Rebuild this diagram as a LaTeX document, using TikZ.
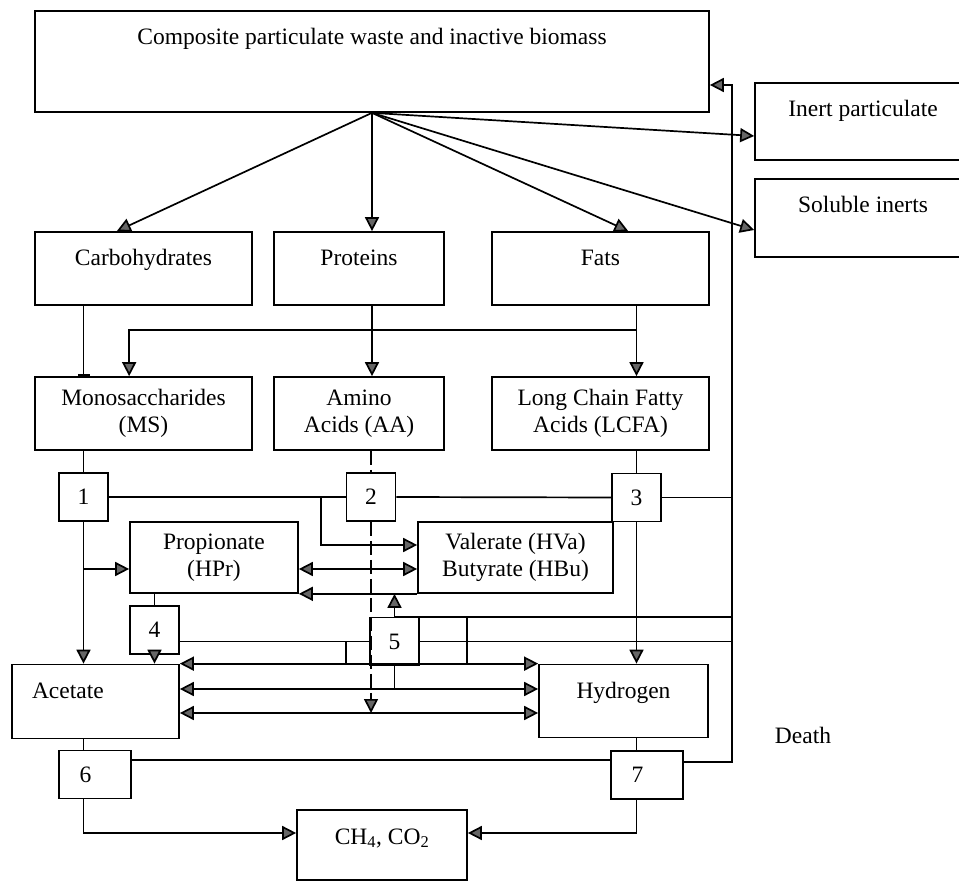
\documentclass[tikz,border=0pt]{standalone}
\usepackage{fontspec}
\setmainfont{Liberation Serif}
\usetikzlibrary{arrows.meta,calc}

\begin{document}
\begin{tikzpicture}[
  x=1pt, y=-1pt,
  font=\fontsize{23.5}{27}\selectfont,
  line width=1.7pt,
  box/.style={draw, line width=1.7pt, inner xsep=0pt, inner ysep=0pt, text height=34pt},
  mbox/.style={draw, line width=1.7pt, inner sep=0pt, align=center},
  proc/.style={draw, line width=1.7pt, inner sep=0pt, minimum width=49pt, minimum height=48pt},
  ar/.style={-{Triangle[length=14pt,width=14pt,fill=black!60]}},
  dar/.style={{Triangle[length=14pt,width=14pt,fill=black!60]}-{Triangle[length=14pt,width=14pt,fill=black!60]}},
  dsh/.style={dash pattern=on 14pt off 5pt},
]
\useasboundingbox (0,0) rectangle (959,882);

\node[box, minimum width=674pt, text depth=67pt] (comp) at (372,61.5) {Composite particulate waste and inactive biomass};
\node[box, minimum width=216pt, text depth=43pt] (inert) at (863,121.5) {Inert particulate};
\node[box, minimum width=216pt, text depth=44pt] (sol) at (863,218) {Soluble inerts};

\node[box, minimum width=217pt, text depth=39pt] (carb) at (143.5,268.5) {Carbohydrates};
\node[box, minimum width=170pt, text depth=39pt] (prot) at (359,268.5) {Proteins};
\node[box, minimum width=217pt, text depth=39pt] (fats) at (600.5,268.5) {Fats};

\node[mbox, minimum width=217pt, minimum height=73pt] (ms)   at (143.5,413.5) {Monosaccharides\\(MS)};
\node[mbox, minimum width=170pt, minimum height=73pt] (aa)   at (359,413.5)   {Amino\\Acids (AA)};
\node[mbox, minimum width=217pt, minimum height=73pt] (lcfa) at (600.5,413.5) {Long Chain Fatty\\Acids (LCFA)};

\node[proc] (p1) at (83.5,497)  {1};
\node[proc] (p2) at (371,497)   {2};
\node[proc] (p3) at (636.5,497.5) {3};

\node[mbox, minimum width=168pt, minimum height=71pt] (hpr) at (214,557.5)   {Propionate\\(HPr)};
\node[mbox, minimum width=195pt, minimum height=71pt] (hva) at (515.5,557.5) {Valerate (HVa)\\Butyrate (HBu)};

\node[proc] (p4) at (154.5,630)   {4};
\node[proc] (p5) at (394.5,641.5) {5};

\node[box, minimum width=167pt, text depth=40pt, text width=127pt, inner xsep=20pt, align=left] (acet) at (95.5,701.5) {Acetate};
\node[box, minimum width=169pt, text depth=39pt] (hyd) at (623.5,701) {Hydrogen};

\node[proc, minimum width=72pt, text width=31pt, inner xsep=20.5pt, align=left] (p6) at (95,774.5) {6};
\node[proc, minimum width=72pt, text width=31pt, inner xsep=20.5pt, align=left] (p7) at (647,775)   {7};

\node[box, minimum width=170pt, text depth=36pt] (ch4) at (382,845) {CH\textsubscript{4}, CO\textsubscript{2}};
\node (death) at (803,735) {Death};

\coordinate (hub) at (comp.south);
\coordinate (dx) at (732,85);

\draw[ar] (hub) -- ($(carb.north west)!0.378!(carb.north east)$);
\draw[ar] (hub) -- (hub |- prot.north);
\draw[ar] (hub) -- ($(fats.north west)!0.627!(fats.north east)$);
\draw[ar] (hub) -- ($(inert.west)+(0,14.5)$);
\draw[ar] (hub) -- ($(sol.west)+(0,12)$);

\draw[-{Bar[width=12pt]}] (p1.north |- carb.south) -- (p1.north |- ms.north);
\draw[ar] (hub |- prot.south) -- (hub |- aa.north);
\draw[ar] (p3.north |- fats.south) -- (p3.north |- lcfa.north);
\draw[ar] ($(p3.north |- fats.south)+(0,24)$) -| (hpr.west |- ms.north);

\draw (p1.north |- ms.south) -- (p1.north);
\draw[dsh] (p2.north |- aa.south) -- (p2.north);
\draw (p3.north |- lcfa.south) -- (p3.north);

\draw (p1.east) -- (p2.west);
\draw (p2.east) -- (p3.west);
\draw (p3.east) -- (p3.east -| dx);
\draw (p4.east |- p5.west) -- (p5.west);
\draw (p5.east) -- (p5.east -| dx);
\draw (p5.north) -- (p5.north -| dx);
\draw (p6.east |- 0,760) -- (p7.west |- 0,760);
\draw[ar] (p7.east |- 0,762) -| (dx) -- (dx -| comp.east);

\draw[ar] (p1.south) -- (p1.south |- acet.north);
\draw[ar] (p1.south |- 0,569) -- (hpr.west |- 0,569);
\draw[ar] (p1.east -| 321,0) |- (hva.west |- 0,545);
\draw[dar] (hpr.east |- 0,569) -- (hva.west |- 0,569);
\draw[ar] (hva.south west) -- (hpr.south east);

\draw (p4.north |- hpr.south) -- (p4.north);
\draw[ar] (p4.south) -- (p4.south |- acet.north);
\draw (346,0 |- p5.west) -- (346,0 |- acet.north);
\draw[ar] (p5.north) -- (p5.north |- hva.south);
\draw (467,0 |- p5.north) -- (467,0 |- hyd.north);
\draw (p5.south) -- (p5.south |- 0,689);
\draw[ar, dsh] (p2.south) -- (p2.south |- 0,713);

\draw[dar] (acet.north east) -- (hyd.north west);
\draw[dar] (acet.east |- 0,689) -- (hyd.west |- 0,689);
\draw[dar] (acet.east |- 0,713) -- (hyd.west |- 0,713);

\draw[ar] (p3.south) -- (p3.south |- hyd.north);
\draw (p3.south |- hyd.south) -- (p3.south |- p7.north);
\draw (p1.south |- acet.south) -- (p1.south |- p6.north);
\draw[ar] (p1.south |- p6.south) |- (ch4.west |- 0,833);
\draw[ar] (p3.south |- p7.south) |- (ch4.east |- 0,833);
\end{tikzpicture}
\end{document}
